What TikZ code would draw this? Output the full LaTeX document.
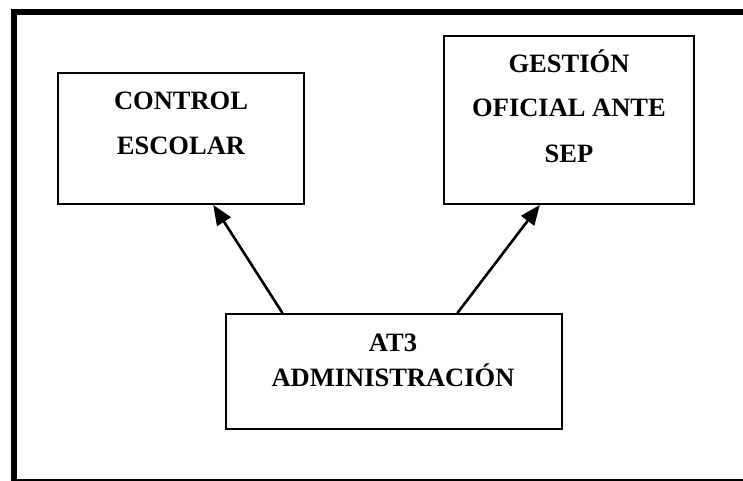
\documentclass[tikz,border=0pt]{standalone}
\usepackage{fontspec}
\setmainfont{Liberation Serif}
\usetikzlibrary{arrows.meta,calc}
\begin{document}
\begin{tikzpicture}[x=1pt,y=-1pt,
  box/.style={draw, line width=1.8pt, inner sep=0pt},
  lbl/.style={anchor=base, inner sep=0pt, font=\fontsize{26.5}{30}\selectfont\bfseries},
  link/.style={line width=2.6pt, -{Triangle[length=20pt,width=16pt]}}]
  % page area and outer frame
  \useasboundingbox (0,0) rectangle (743,481);
  \clip (0,0) rectangle (743,481);
  \draw[line width=5.5pt] (14,12) rectangle (760,481.5);

  % boxes
  \node[box, minimum width=246pt, minimum height=131pt] (ctrl) at (181,138.5) {};
  \node[box, minimum width=250pt, minimum height=168pt] (gest) at (569,120) {};
  \node[box, minimum width=336pt, minimum height=115pt] (adm) at (394,371.5) {};

  % box texts
  \node[lbl] (ctrlA) at (181,110) {CONTROL};
  \node[lbl] (ctrlB) at (181,155) {ESCOLAR};
  \node[lbl] (gestA) at (569,72.7) {GESTIÓN};
  \node[lbl] (gestB) at (569,116.7) {OFICIAL ANTE};
  \node[lbl] (gestC) at (569,163) {SEP};
  \node[lbl] (admA) at (393,351.7) {AT3};
  \node[lbl] (admB) at (393,386.7) {ADMINISTRACIÓN};

  % connectors
  \draw[link] ($(adm.north west)!0.17!(adm.north east)$) -- ($(ctrl.south west)!0.63!(ctrl.south east)$);
  \draw[link] ($(adm.north west)!0.6875!(adm.north east)$) -- ($(gest.south west)!0.384!(gest.south east)$);
\end{tikzpicture}
\end{document}
